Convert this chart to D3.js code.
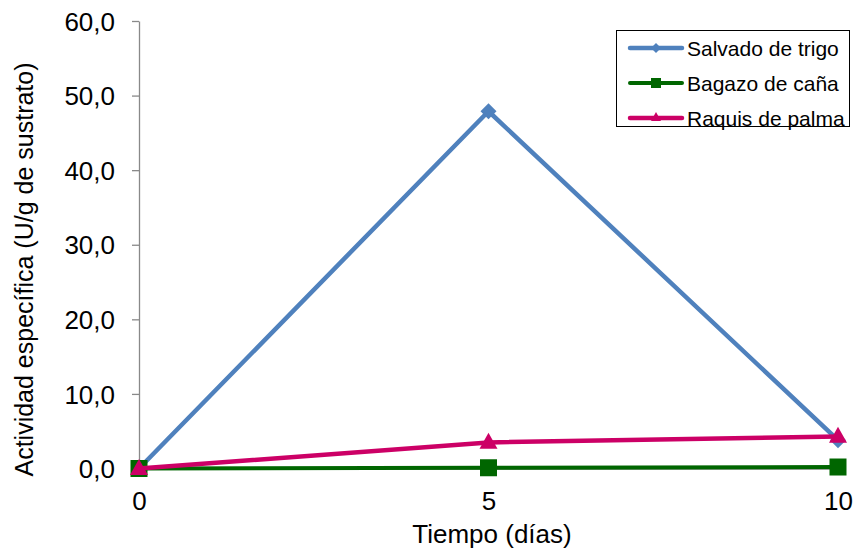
<!DOCTYPE html>
<html>
<head>
<meta charset="utf-8">
<script src="https://cdn.jsdelivr.net/npm/d3@7"></script>
<style>
  html, body { margin: 0; padding: 0; background: #fff; }
  svg { display: block; font-family: "Liberation Sans", Arial, sans-serif; }
</style>
</head>
<body>
<svg id="chart" width="857" height="552"></svg>
<script>
// Days of fermentation
const days = [0, 5, 10];
// Specific activity (U/g de sustrato) for each substrate
const salvadoTrigo = [0.0, 47.9, 3.8];
const bagazoCana = [0.0, 0.1, 0.2];
const raquisPalma = [0.0, 3.5, 4.3];
const yTicks = [0, 10, 20, 30, 40, 50, 60];
const xTicks = [0, 5, 10];

const series = [
  { name: "Salvado de trigo", values: salvadoTrigo, color: "#4F81BD", width: 4.5, marker: "diamond" },
  { name: "Bagazo de caña", values: bagazoCana, color: "#006600", width: 4, marker: "square" },
  { name: "Raquis de palma", values: raquisPalma, color: "#CC0066", width: 4.5, marker: "triangle" }
];

const svg = d3.select("#chart");
const x = d3.scaleLinear().domain([0, 10]).range([139, 838]);
const y = d3.scaleLinear().domain([0, 60]).range([468.5, 21]);
const axisColor = "#898989";
const font = "Liberation Sans, Arial, sans-serif";

// Y axis
const yAxis = svg.append("g").attr("transform", "translate(139,0)")
  .call(d3.axisLeft(y).tickValues(yTicks).tickSize(7).tickSizeOuter(0)
    .tickFormat(d => d3.format(".1f")(d).replace(".", ",")));
yAxis.select(".domain").attr("stroke", axisColor).attr("stroke-width", 1.3);
yAxis.selectAll(".tick line").attr("stroke", axisColor).attr("stroke-width", 1.3);
yAxis.selectAll(".tick text").attr("font-size", 26).attr("fill", "#000")
  .attr("x", -24).attr("dy", "0.35em").attr("font-family", font);

// X axis
const xAxis = svg.append("g").attr("transform", "translate(0,468.5)")
  .call(d3.axisBottom(x).tickValues(xTicks).tickSize(6).tickSizeOuter(0));
xAxis.select(".domain").attr("stroke", axisColor).attr("stroke-width", 1.3);
xAxis.selectAll(".tick line").attr("stroke", axisColor).attr("stroke-width", 1.3);
xAxis.selectAll(".tick text").attr("font-size", 26).attr("fill", "#000")
  .attr("y", 41).attr("dy", 0).attr("font-family", font);

// Axis titles
svg.append("text").attr("x", 492).attr("y", 543).attr("text-anchor", "middle")
  .attr("font-size", 26).text("Tiempo (días)");
svg.append("text").attr("transform", "translate(33,269.5) rotate(-90)")
  .attr("text-anchor", "middle").attr("font-size", 25)
  .text("Actividad específica (U/g de sustrato)");

const line = d3.line().x((d, i) => x(days[i])).y(d => y(d));

function marker(g, type, cx, cy, color) {
  if (type === "diamond") {
    const r = 8;
    g.append("path").attr("d", `M${cx},${cy - r}L${cx + r},${cy}L${cx},${cy + r}L${cx - r},${cy}Z`).attr("fill", color);
  } else if (type === "square") {
    const s = 17;
    g.append("rect").attr("x", cx - s / 2).attr("y", cy - s / 2).attr("width", s).attr("height", s).attr("fill", color);
  } else {
    const h = 16, w = 18;
    g.append("path").attr("d", `M${cx},${cy - h * 0.6}L${cx + w / 2},${cy + h * 0.4}L${cx - w / 2},${cy + h * 0.4}Z`).attr("fill", color);
  }
}

series.forEach(s => {
  const g = svg.append("g");
  g.append("path").datum(s.values).attr("d", line).attr("fill", "none")
    .attr("stroke", s.color).attr("stroke-width", s.width).attr("stroke-linejoin", "round");
  s.values.forEach((v, i) => marker(g, s.marker, x(days[i]), y(v), s.color));
});

// Legend
const lg = svg.append("g");
lg.append("rect").attr("x", 616.5).attr("y", 30.5).attr("width", 233).attr("height", 96)
  .attr("fill", "#fff").attr("stroke", "#000").attr("stroke-width", 1);
series.forEach((s, i) => {
  const cy = 48 + i * 35;
  lg.append("line").attr("x1", 630).attr("x2", 682).attr("y1", cy).attr("y2", cy)
    .attr("stroke", s.color).attr("stroke-width", s.width).attr("stroke-linecap", "round");
  const mg = lg.append("g");
  if (s.marker === "diamond") {
    mg.append("path").attr("d", `M656,${cy - 5}L661,${cy}L656,${cy + 5}L651,${cy}Z`).attr("fill", s.color);
  }
  if (s.marker === "square") {
    mg.append("rect").attr("x", 651).attr("y", cy - 5).attr("width", 10).attr("height", 10).attr("fill", s.color);
  }
  if (s.marker === "triangle") {
    mg.append("path").attr("d", `M656,${cy - 6}L661,${cy + 3}L651,${cy + 3}Z`).attr("fill", s.color);
  }
  lg.append("text").attr("x", 687).attr("y", cy + 8).attr("font-size", 21).text(s.name);
});
</script>
</body>
</html>
